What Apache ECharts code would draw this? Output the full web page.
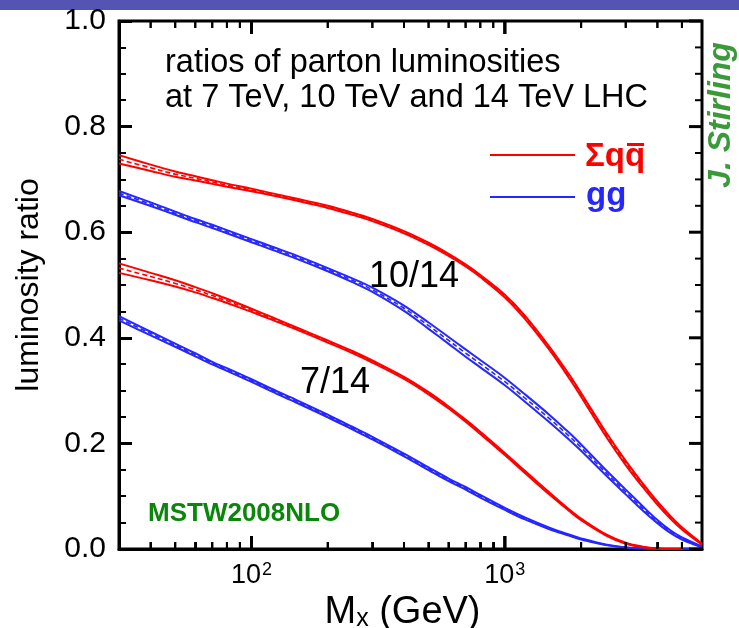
<!DOCTYPE html>
<html>
<head>
<meta charset="utf-8">
<script src="https://cdn.jsdelivr.net/npm/echarts@6/dist/echarts.min.js"></script>
<style>
  html, body { margin: 0; padding: 0; background: #ffffff; }
  #chart { width: 739px; height: 628px; }
</style>
</head>
<body>
<div id="chart"></div>
<script>
// Invariant mass M_X (GeV) at which the luminosity ratios are sampled
const massGeV = [30, 40, 50, 60, 70, 80, 100, 120, 150, 200, 250, 300, 400, 500, 600, 700, 800,
                 1000, 1200, 1500, 1800, 2000, 2500, 3000, 3500, 4000, 4500, 5000, 6000];

// 10 TeV / 14 TeV, quark-antiquark luminosity: central value and half-width of the PDF band
const qq10Mid = [0.738, 0.722, 0.710, 0.702, 0.695, 0.689, 0.680, 0.672, 0.662, 0.648, 0.635, 0.623, 0.600, 0.578, 0.557, 0.537, 0.517,
                 0.479, 0.439, 0.380, 0.326, 0.292, 0.218, 0.163, 0.121, 0.087, 0.060, 0.039, 0.009];
const qq10Spread = [0.008, 0.006, 0.005, 0.004, 0.0035, 0.003, 0.0025, 0.002, 0.002, 0.002, 0.002, 0.002, 0.002, 0.002, 0.002, 0.002, 0.002,
                    0.0025, 0.003, 0.003, 0.0035, 0.0035, 0.004, 0.004, 0.0035, 0.003, 0.0025, 0.002, 0.001];

// 10 TeV / 14 TeV, gluon-gluon luminosity
const gg10Mid = [0.674, 0.653, 0.636, 0.622, 0.611, 0.601, 0.584, 0.570, 0.553, 0.529, 0.509, 0.491, 0.456, 0.423, 0.395, 0.371, 0.351,
                 0.317, 0.286, 0.247, 0.213, 0.192, 0.145, 0.108, 0.077, 0.052, 0.033, 0.020, 0.004];
const gg10Spread = [0.004, 0.0035, 0.003, 0.003, 0.003, 0.003, 0.003, 0.003, 0.003, 0.003, 0.0035, 0.004, 0.005, 0.006, 0.0065, 0.007, 0.007,
                    0.007, 0.007, 0.007, 0.0065, 0.006, 0.005, 0.0045, 0.004, 0.003, 0.0025, 0.002, 0.001];

// 7 TeV / 14 TeV, quark-antiquark luminosity
const qq7Mid = [0.532, 0.516, 0.503, 0.491, 0.480, 0.470, 0.452, 0.437, 0.418, 0.393, 0.373, 0.355, 0.324, 0.295, 0.268, 0.243, 0.220,
                0.180, 0.146, 0.105, 0.073, 0.056, 0.027, 0.011, 0.004, 0.001, 0.000, 0.000, null];
const qq7Spread = [0.009, 0.007, 0.006, 0.005, 0.0045, 0.004, 0.003, 0.0025, 0.002, 0.002, 0.002, 0.002, 0.002, 0.002, 0.002, 0.002, 0.002,
                   0.002, 0.002, 0.002, 0.0015, 0.0015, 0.001, 0.001, 0.0005, 0, 0, 0, 0];

// 7 TeV / 14 TeV, gluon-gluon luminosity
const gg7Mid = [0.437, 0.408, 0.386, 0.368, 0.352, 0.340, 0.319, 0.301, 0.280, 0.252, 0.229, 0.210, 0.178, 0.152, 0.131, 0.115, 0.100,
                0.076, 0.058, 0.039, 0.026, 0.019, 0.008, 0.003, 0.001, 0.000, 0.000, 0.000, 0.000];
const gg7Spread = [0.004, 0.0035, 0.003, 0.003, 0.0025, 0.0025, 0.0025, 0.0025, 0.0025, 0.0025, 0.0025, 0.0025, 0.0025, 0.0025, 0.0025, 0.0025, 0.0025,
                   0.002, 0.002, 0.0015, 0.001, 0.001, 0.0005, 0, 0, 0, 0, 0, 0];

// Axis ranges and ticks
const X_MIN = 30, X_MAX = 6000;
const yTicks = ['0.0', '0.2', '0.4', '0.6', '0.8', '1.0'];
const yMajorTicks = [0, 0.2, 0.4, 0.6, 0.8, 1.0];
const yMinorTicks = [0.05, 0.1, 0.15, 0.25, 0.3, 0.35, 0.45, 0.5, 0.55, 0.65, 0.7, 0.75, 0.85, 0.9, 0.95];
const xMajorTicks = [100, 1000];
const xMinorTicks = [40, 50, 60, 70, 80, 90, 200, 300, 400, 500, 600, 700, 800, 900, 2000, 3000, 4000, 5000];

const RED = '#ff0000';
const BLUE = '#2626ff';
const GREEN = '#0a860a';
const FONT = '"Liberation Sans", Arial, Helvetica, sans-serif';

// Each PDF band is drawn as two solid edges and a dashed central curve
function bandSeries(mid, spread, color) {
  const edge = (sign) => mid.map((v, i) => v == null ? null : [massGeV[i], Math.max(0, +(v + sign * spread[i]).toFixed(4))]);
  const centre = mid.map((v, i) => v == null ? null : [massGeV[i], v]);
  const common = { type: 'line', showSymbol: false, symbol: 'none', smooth: 0.35, silent: true, animation: false };
  return [
    Object.assign({}, common, { data: edge(1), lineStyle: { color: color, width: 2 } }),
    Object.assign({}, common, { data: edge(-1), lineStyle: { color: color, width: 2 } }),
    Object.assign({}, common, { data: centre, lineStyle: { color: color, width: 1.6, type: [5, 3] } })
  ];
}

const tickLine = (x1, y1, x2, y2, lw) => ({ type: 'line', shape: { x1, y1, x2, y2 }, style: { stroke: '#000', lineWidth: lw } });

// Mass ticks on the bottom and top frame edges: one item per tick and edge (0 = bottom, 1 = top)
const xTickItems = [];
[0, 1].forEach(edge => {
  xMinorTicks.forEach(v => xTickItems.push([v, 0.5, 0, edge]));
  xMajorTicks.forEach(v => xTickItems.push([v, 0.5, 1, edge]));
});
const xTickSeries = {
  type: 'custom', silent: true, z: 5,
  data: xTickItems,
  renderItem: (params, api) => {
    const major = api.value(2) === 1;
    const edge = api.value(3);
    const len = major ? 13 : 7, lw = major ? 3 : 2;
    const x = api.coord([api.value(0), 0.5])[0];
    const cs = params.coordSys;
    const y0 = edge === 0 ? cs.y + cs.height : cs.y;
    const y1 = edge === 0 ? y0 - len : y0 + len;
    return tickLine(x, y0, x, y1, lw);
  }
};

// Ratio ticks mirrored on the right frame edge
const yTickSeries = {
  type: 'custom', silent: true, animation: false, clip: false, z: 5,
  data: yMinorTicks.map(v => [X_MIN, v, 0]).concat(yMajorTicks.map(v => [X_MIN, v, 1])),
  renderItem: (params, api) => {
    const major = api.value(2) === 1;
    const len = major ? 13 : 7, lw = major ? 3 : 2;
    const p = api.coord([X_MIN, api.value(1)]);
    const xr = params.coordSys.x + params.coordSys.width;
    return tickLine(xr, p[1], xr - len, p[1], lw);
  }
};

const series = [].concat(
  bandSeries(gg7Mid, gg7Spread, BLUE),
  bandSeries(gg10Mid, gg10Spread, BLUE),
  bandSeries(qq7Mid, qq7Spread, RED),
  bandSeries(qq10Mid, qq10Spread, RED),
  [xTickSeries, yTickSeries]
);

// Place the bar of the anti-quark symbol over the last glyph of the legend label
const measureCtx = document.createElement('canvas').getContext('2d');
const legendFont = 'bold 33px ' + FONT;
measureCtx.font = legendFont;
const qqLeft = 585;
const barX0 = qqLeft + measureCtx.measureText('Σq').width + 2;
const barX1 = qqLeft + measureCtx.measureText('Σqq').width - 1;

const staticGraphics = [
  { id: 'band', type: 'rect', left: 0, top: 0, shape: { width: 739, height: 10 }, style: { fill: '#5454b4' }, silent: true },
  { id: 't1', type: 'text', x: 165, y: 63, style: { text: 'ratios of parton luminosities', font: '32.5px ' + FONT, fill: '#000', verticalAlign: 'middle' } },
  { id: 't2', type: 'text', x: 165, y: 98, style: { text: 'at 7 TeV, 10 TeV and 14 TeV LHC', font: '32.5px ' + FONT, fill: '#000', verticalAlign: 'middle' } },
  // legend
  { id: 'lq', type: 'line', shape: { x1: 490, y1: 155, x2: 575, y2: 155 }, style: { stroke: RED, lineWidth: 2 } },
  { id: 'lg', type: 'line', shape: { x1: 490, y1: 197, x2: 575, y2: 197 }, style: { stroke: BLUE, lineWidth: 2 } },
  { id: 'nq', type: 'text', x: qqLeft, y: 157, style: { text: 'Σqq', font: legendFont, fill: RED, verticalAlign: 'middle' } },
  { id: 'bar', type: 'rect', shape: { x: barX0, y: 143, width: barX1 - barX0, height: 3 }, style: { fill: RED } },
  { id: 'ng', type: 'text', x: 586, y: 196, style: { text: 'gg', font: legendFont, fill: BLUE, verticalAlign: 'middle' } },
  // curve annotations
  { id: 'a10', type: 'text', x: 369, y: 277, style: { text: '10/14', font: '36px ' + FONT, fill: '#000', verticalAlign: 'middle' } },
  { id: 'a7', type: 'text', x: 300, y: 383, style: { text: '7/14', font: '36px ' + FONT, fill: '#000', verticalAlign: 'middle' } },
  { id: 'pdf', type: 'text', x: 148, y: 514, style: { text: 'MSTW2008NLO', font: 'bold 26px ' + FONT, fill: GREEN, verticalAlign: 'middle' } },
  { id: 'sig', type: 'text', x: 721, y: 115, rotation: Math.PI / 2,
    style: { text: 'J. Stirling', font: 'italic bold 32px ' + FONT, fill: '#3a9a3a', align: 'center', verticalAlign: 'middle' } }
];

const chart = echarts.init(document.getElementById('chart'), null, { renderer: 'canvas' });
chart.setOption({
  animation: false,
  backgroundColor: '#ffffff',
  grid: {
    left: 119, right: 37, top: 21, bottom: 79, outerBoundsMode: 'none',
    show: true, borderColor: '#000', borderWidth: 3, backgroundColor: 'transparent'
  },
  xAxis: {
    type: 'log', logBase: 10, min: X_MIN, max: X_MAX, position: 'bottom',
    splitLine: { show: false },
    axisLine: { show: true, lineStyle: { color: '#000', width: 3 } },
    axisTick: { show: true, inside: true, length: 7, customValues: xMinorTicks, lineStyle: { color: '#000', width: 2 } },
    axisLabel: {
      show: true, margin: 12, showMinLabel: false, showMaxLabel: false,
      formatter: (v) => {
        const e = Math.log10(v);
        if (Math.abs(e - Math.round(e)) > 1e-6) return '';
        return '{a|10}{b|' + Math.round(e) + '}';
      },
      rich: {
        a: { fontFamily: FONT, fontSize: 27, color: '#000', lineHeight: 28, verticalAlign: 'bottom' },
        b: { fontFamily: FONT, fontSize: 18, color: '#000', lineHeight: 14, verticalAlign: 'top', padding: [0, 0, 0, 1] }
      }
    },
    name: '{m|M}{s|x}{m| (GeV)}',
    nameLocation: 'middle', nameGap: 35,
    nameTextStyle: {
      padding: [0, 16, 0, 0],
      rich: {
        m: { fontFamily: FONT, fontSize: 38, color: '#000', lineHeight: 42, verticalAlign: 'bottom' },
        s: { fontFamily: FONT, fontSize: 25, color: '#000', lineHeight: 14, verticalAlign: 'bottom' }
      }
    }
  },
  yAxis: {
    type: 'value', position: 'left', min: 0, max: 1, interval: 0.2,
    splitLine: { show: false },
    axisLine: { show: true, lineStyle: { color: '#000', width: 3 } },
    axisTick: { show: true, inside: true, length: 13, lineStyle: { color: '#000', width: 3 } },
    minorTick: { show: true, splitNumber: 4, length: 7, lineStyle: { color: '#000', width: 2 } },
    axisLabel: {
      margin: 13, fontFamily: FONT, fontSize: 30, color: '#000',
      formatter: (v) => yTicks[Math.round(v * 5)]
    },
    name: 'luminosity ratio', nameLocation: 'middle', nameRotate: 90, nameGap: 74,
    nameTextStyle: { fontFamily: FONT, fontSize: 32, color: '#000' }
  },
  series: series,
  graphic: staticGraphics
});

// Mass ticks also laid out as graphic lines, positioned by converting each tick value through the log axis
try {
  const yBottom = chart.convertToPixel({ yAxisIndex: 0 }, 0);
  const yTop = chart.convertToPixel({ yAxisIndex: 0 }, 1);
  const tickGraphics = [];
  const addTicks = (values, len, lw, tag) => values.forEach((v, i) => {
    const x = chart.convertToPixel({ xAxisIndex: 0 }, v);
    if (!isFinite(x) || !isFinite(yBottom) || !isFinite(yTop)) return;
    tickGraphics.push(Object.assign({ id: tag + 'b' + i, z: 20, silent: true }, tickLine(x, yBottom, x, yBottom - len, lw)));
    tickGraphics.push(Object.assign({ id: tag + 't' + i, z: 20, silent: true }, tickLine(x, yTop, x, yTop + len, lw)));
  });
  addTicks(xMinorTicks, 7, 2, 'mi');
  addTicks(xMajorTicks, 13, 3, 'ma');
  if (tickGraphics.length) chart.setOption({ graphic: staticGraphics.concat(tickGraphics) });
} catch (e) { /* axis ticks from the series above remain */ }
</script>
</body>
</html>
